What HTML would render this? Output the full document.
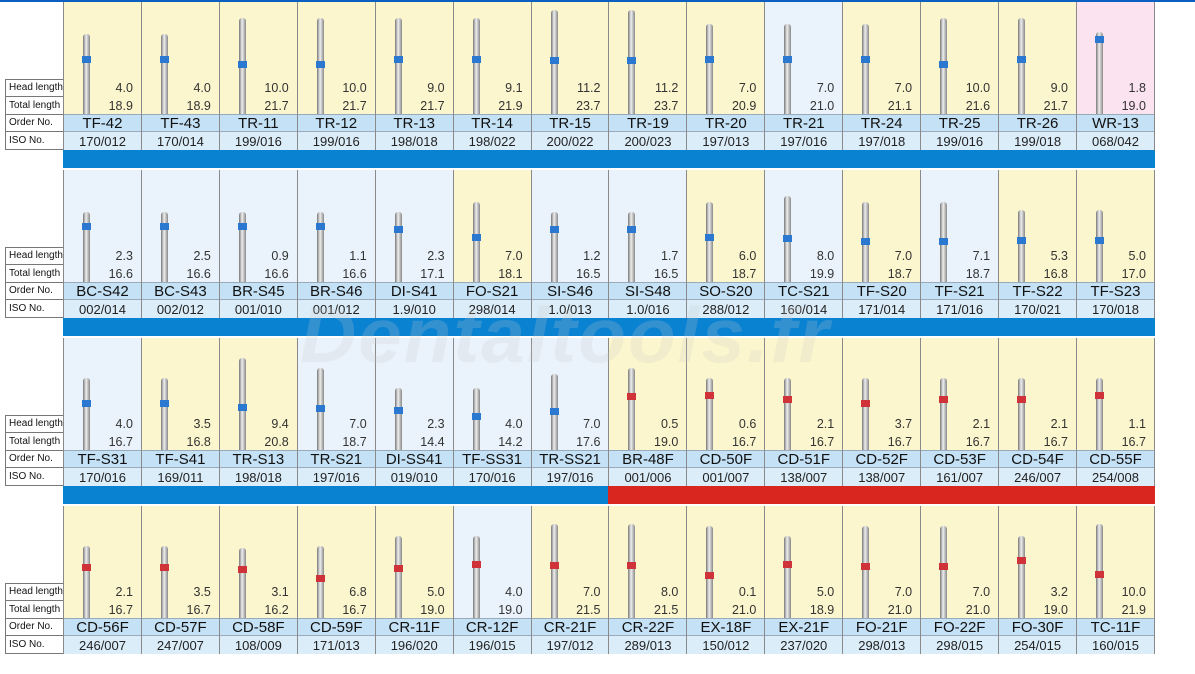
<!DOCTYPE html>
<html><head><meta charset="utf-8"><style>
*{margin:0;padding:0;box-sizing:border-box}
body{width:1195px;height:655px;background:#fff;position:relative;overflow:hidden;font-family:"Liberation Sans",sans-serif}
.top{position:absolute;left:0;top:0;width:1195px;height:2px;background:#0a5fc0}
.blk{position:absolute;left:0;width:1195px;height:168px}
.lab{position:absolute;left:5px;width:58px;border:1px solid #777;border-right:none;border-bottom:none;font-size:10px;padding-left:3px;color:#111;background:#fff}
.lab.last{border-bottom:1px solid #777}
.row{position:absolute;left:63px;display:flex;width:1092px;border-right:1px solid #8a8a8a}
.c{position:relative;width:78px;height:148px;border-left:1px solid #8a8a8a;background:#fbf6cd}
.c.l{background:#eaf3fb}.c.p{background:#fbe3ef}
.c .h,.c .t{position:absolute;right:8px;font-size:12.5px;color:#333}
.c .h{top:79px}.c .t{top:97px}
.c b{position:absolute;left:0;top:112px;width:77px;height:17px;background:#c4e1f5;font-weight:normal;font-size:15px;text-align:center;line-height:18px;color:#111;border-top:1px solid #9ab}
.c u{position:absolute;left:0;top:129px;width:77px;height:19px;background:#dbedf9;text-decoration:none;font-size:13px;text-align:center;line-height:19px;color:#222;border-top:1px solid #9ab}
.c i{position:absolute;left:19px;bottom:36px;width:7px;background:linear-gradient(90deg,#777,#eee 45%,#888);border-radius:3px 3px 0 0}
.c i:after{content:"";position:absolute;left:-1px;width:9px;height:7px;background:var(--bc,#2a78d0);top:var(--bt,40%)}
.r i:after{--bc:#d0323a}
.bar{position:absolute;left:63px;top:148px;width:1092px;height:18px;background:#0a82d2}
.R{position:absolute;left:608px;top:148px;width:547px;height:18px;background:#d9261e}
.wm{position:absolute;left:300px;top:290px;font-size:78px;font-weight:bold;font-style:italic;color:rgba(200,200,200,.22);letter-spacing:2px}
</style></head><body>
<div class="top"></div>

<div class="blk" style="top:2px">
<div class="lab" style="top:77px;height:17px;line-height:16px">Head length</div>
<div class="lab" style="top:94px;height:18px;line-height:17px">Total length</div>
<div class="lab" style="top:112px;height:17px;line-height:16px">Order No.</div>
<div class="lab last" style="top:129px;height:19px;line-height:17px">ISO No.</div>
<div class="row">
<div class="c"><i style="height:80px;--bt:28%"></i><span class="h">4.0</span><span class="t">18.9</span><b>TF-42</b><u>170/012</u></div>
<div class="c"><i style="height:80px;--bt:28%"></i><span class="h">4.0</span><span class="t">18.9</span><b>TF-43</b><u>170/014</u></div>
<div class="c"><i style="height:96px;--bt:45%"></i><span class="h">10.0</span><span class="t">21.7</span><b>TR-11</b><u>199/016</u></div>
<div class="c"><i style="height:96px;--bt:45%"></i><span class="h">10.0</span><span class="t">21.7</span><b>TR-12</b><u>199/016</u></div>
<div class="c"><i style="height:96px;--bt:40%"></i><span class="h">9.0</span><span class="t">21.7</span><b>TR-13</b><u>198/018</u></div>
<div class="c"><i style="height:96px;--bt:40%"></i><span class="h">9.1</span><span class="t">21.9</span><b>TR-14</b><u>198/022</u></div>
<div class="c"><i style="height:104px;--bt:45%"></i><span class="h">11.2</span><span class="t">23.7</span><b>TR-15</b><u>200/022</u></div>
<div class="c"><i style="height:104px;--bt:45%"></i><span class="h">11.2</span><span class="t">23.7</span><b>TR-19</b><u>200/023</u></div>
<div class="c"><i style="height:90px;--bt:35%"></i><span class="h">7.0</span><span class="t">20.9</span><b>TR-20</b><u>197/013</u></div>
<div class="c l"><i style="height:90px;--bt:35%"></i><span class="h">7.0</span><span class="t">21.0</span><b>TR-21</b><u>197/016</u></div>
<div class="c"><i style="height:90px;--bt:35%"></i><span class="h">7.0</span><span class="t">21.1</span><b>TR-24</b><u>197/018</u></div>
<div class="c"><i style="height:96px;--bt:45%"></i><span class="h">10.0</span><span class="t">21.6</span><b>TR-25</b><u>199/016</u></div>
<div class="c"><i style="height:96px;--bt:40%"></i><span class="h">9.0</span><span class="t">21.7</span><b>TR-26</b><u>199/018</u></div>
<div class="c p"><i style="height:82px;--bt:5%"></i><span class="h">1.8</span><span class="t">19.0</span><b>WR-13</b><u>068/042</u></div>
</div>
<div class="bar"></div>
</div>

<div class="blk" style="top:170px">
<div class="lab" style="top:77px;height:17px;line-height:16px">Head length</div>
<div class="lab" style="top:94px;height:18px;line-height:17px">Total length</div>
<div class="lab" style="top:112px;height:17px;line-height:16px">Order No.</div>
<div class="lab last" style="top:129px;height:19px;line-height:17px">ISO No.</div>
<div class="row">
<div class="c l"><i style="height:70px;--bt:15%"></i><span class="h">2.3</span><span class="t">16.6</span><b>BC-S42</b><u>002/014</u></div>
<div class="c l"><i style="height:70px;--bt:15%"></i><span class="h">2.5</span><span class="t">16.6</span><b>BC-S43</b><u>002/012</u></div>
<div class="c l"><i style="height:70px;--bt:15%"></i><span class="h">0.9</span><span class="t">16.6</span><b>BR-S45</b><u>001/010</u></div>
<div class="c l"><i style="height:70px;--bt:15%"></i><span class="h">1.1</span><span class="t">16.6</span><b>BR-S46</b><u>001/012</u></div>
<div class="c l"><i style="height:70px;--bt:20%"></i><span class="h">2.3</span><span class="t">17.1</span><b>DI-S41</b><u>1.9/010</u></div>
<div class="c"><i style="height:80px;--bt:40%"></i><span class="h">7.0</span><span class="t">18.1</span><b>FO-S21</b><u>298/014</u></div>
<div class="c l"><i style="height:70px;--bt:20%"></i><span class="h">1.2</span><span class="t">16.5</span><b>SI-S46</b><u>1.0/013</u></div>
<div class="c l"><i style="height:70px;--bt:20%"></i><span class="h">1.7</span><span class="t">16.5</span><b>SI-S48</b><u>1.0/016</u></div>
<div class="c"><i style="height:80px;--bt:40%"></i><span class="h">6.0</span><span class="t">18.7</span><b>SO-S20</b><u>288/012</u></div>
<div class="c l"><i style="height:86px;--bt:45%"></i><span class="h">8.0</span><span class="t">19.9</span><b>TC-S21</b><u>160/014</u></div>
<div class="c"><i style="height:80px;--bt:45%"></i><span class="h">7.0</span><span class="t">18.7</span><b>TF-S20</b><u>171/014</u></div>
<div class="c l"><i style="height:80px;--bt:45%"></i><span class="h">7.1</span><span class="t">18.7</span><b>TF-S21</b><u>171/016</u></div>
<div class="c"><i style="height:72px;--bt:38%"></i><span class="h">5.3</span><span class="t">16.8</span><b>TF-S22</b><u>170/021</u></div>
<div class="c"><i style="height:72px;--bt:38%"></i><span class="h">5.0</span><span class="t">17.0</span><b>TF-S23</b><u>170/018</u></div>
</div>
<div class="bar"></div>
</div>

<div class="blk" style="top:338px">
<div class="lab" style="top:77px;height:17px;line-height:16px">Head length</div>
<div class="lab" style="top:94px;height:18px;line-height:17px">Total length</div>
<div class="lab" style="top:112px;height:17px;line-height:16px">Order No.</div>
<div class="lab last" style="top:129px;height:19px;line-height:17px">ISO No.</div>
<div class="row">
<div class="c l"><i style="height:72px;--bt:30%"></i><span class="h">4.0</span><span class="t">16.7</span><b>TF-S31</b><u>170/016</u></div>
<div class="c"><i style="height:72px;--bt:30%"></i><span class="h">3.5</span><span class="t">16.8</span><b>TF-S41</b><u>169/011</u></div>
<div class="c"><i style="height:92px;--bt:50%"></i><span class="h">9.4</span><span class="t">20.8</span><b>TR-S13</b><u>198/018</u></div>
<div class="c l"><i style="height:82px;--bt:45%"></i><span class="h">7.0</span><span class="t">18.7</span><b>TR-S21</b><u>197/016</u></div>
<div class="c l"><i style="height:62px;--bt:30%"></i><span class="h">2.3</span><span class="t">14.4</span><b>DI-SS41</b><u>019/010</u></div>
<div class="c l"><i style="height:62px;--bt:40%"></i><span class="h">4.0</span><span class="t">14.2</span><b>TF-SS31</b><u>170/016</u></div>
<div class="c l"><i style="height:76px;--bt:45%"></i><span class="h">7.0</span><span class="t">17.6</span><b>TR-SS21</b><u>197/016</u></div>
<div class="c r"><i style="height:82px;--bt:30%"></i><span class="h">0.5</span><span class="t">19.0</span><b>BR-48F</b><u>001/006</u></div>
<div class="c r"><i style="height:72px;--bt:20%"></i><span class="h">0.6</span><span class="t">16.7</span><b>CD-50F</b><u>001/007</u></div>
<div class="c r"><i style="height:72px;--bt:25%"></i><span class="h">2.1</span><span class="t">16.7</span><b>CD-51F</b><u>138/007</u></div>
<div class="c r"><i style="height:72px;--bt:30%"></i><span class="h">3.7</span><span class="t">16.7</span><b>CD-52F</b><u>138/007</u></div>
<div class="c r"><i style="height:72px;--bt:25%"></i><span class="h">2.1</span><span class="t">16.7</span><b>CD-53F</b><u>161/007</u></div>
<div class="c r"><i style="height:72px;--bt:25%"></i><span class="h">2.1</span><span class="t">16.7</span><b>CD-54F</b><u>246/007</u></div>
<div class="c r"><i style="height:72px;--bt:20%"></i><span class="h">1.1</span><span class="t">16.7</span><b>CD-55F</b><u>254/008</u></div>
</div>
<div class="bar"></div><div class="R"></div>
</div>

<div class="blk" style="top:506px">
<div class="lab" style="top:77px;height:17px;line-height:16px">Head length</div>
<div class="lab" style="top:94px;height:18px;line-height:17px">Total length</div>
<div class="lab" style="top:112px;height:17px;line-height:16px">Order No.</div>
<div class="lab last" style="top:129px;height:19px;line-height:17px">ISO No.</div>
<div class="row">
<div class="c r"><i style="height:72px;--bt:25%"></i><span class="h">2.1</span><span class="t">16.7</span><b>CD-56F</b><u>246/007</u></div>
<div class="c r"><i style="height:72px;--bt:25%"></i><span class="h">3.5</span><span class="t">16.7</span><b>CD-57F</b><u>247/007</u></div>
<div class="c r"><i style="height:70px;--bt:25%"></i><span class="h">3.1</span><span class="t">16.2</span><b>CD-58F</b><u>108/009</u></div>
<div class="c r"><i style="height:72px;--bt:40%"></i><span class="h">6.8</span><span class="t">16.7</span><b>CD-59F</b><u>171/013</u></div>
<div class="c r"><i style="height:82px;--bt:35%"></i><span class="h">5.0</span><span class="t">19.0</span><b>CR-11F</b><u>196/020</u></div>
<div class="c r l"><i style="height:82px;--bt:30%"></i><span class="h">4.0</span><span class="t">19.0</span><b>CR-12F</b><u>196/015</u></div>
<div class="c r"><i style="height:94px;--bt:40%"></i><span class="h">7.0</span><span class="t">21.5</span><b>CR-21F</b><u>197/012</u></div>
<div class="c r"><i style="height:94px;--bt:40%"></i><span class="h">8.0</span><span class="t">21.5</span><b>CR-22F</b><u>289/013</u></div>
<div class="c r"><i style="height:92px;--bt:50%"></i><span class="h">0.1</span><span class="t">21.0</span><b>EX-18F</b><u>150/012</u></div>
<div class="c r"><i style="height:82px;--bt:30%"></i><span class="h">5.0</span><span class="t">18.9</span><b>EX-21F</b><u>237/020</u></div>
<div class="c r"><i style="height:92px;--bt:40%"></i><span class="h">7.0</span><span class="t">21.0</span><b>FO-21F</b><u>298/013</u></div>
<div class="c r"><i style="height:92px;--bt:40%"></i><span class="h">7.0</span><span class="t">21.0</span><b>FO-22F</b><u>298/015</u></div>
<div class="c r"><i style="height:82px;--bt:25%"></i><span class="h">3.2</span><span class="t">19.0</span><b>FO-30F</b><u>254/015</u></div>
<div class="c r"><i style="height:94px;--bt:50%"></i><span class="h">10.0</span><span class="t">21.9</span><b>TC-11F</b><u>160/015</u></div>
</div>
</div>
<div class="wm">Dentaltools.fr</div>
</body></html>
